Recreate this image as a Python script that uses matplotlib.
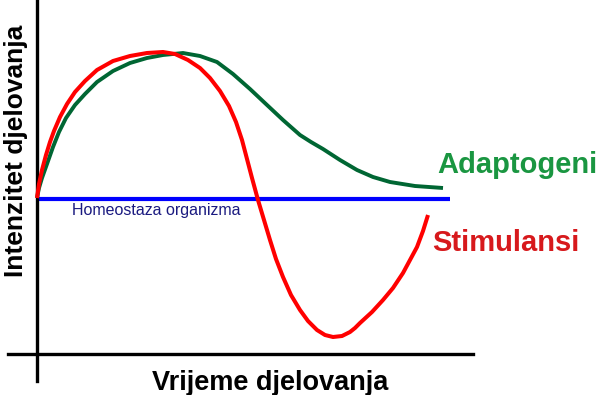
import matplotlib
matplotlib.use("Agg")
import matplotlib.pyplot as plt

plt.rcParams['font.family'] = ['Liberation Sans', 'DejaVu Sans']

# Time axis and intensity values
green_x = [0, 2, 5, 10, 16, 22, 29, 38, 48, 60, 76, 93, 110, 126, 146, 163, 180, 196,
           213, 230, 246, 263, 274, 286, 303, 320, 336, 353, 378, 406]
green_y = [156, 166, 176, 190, 207, 222, 236, 249, 260, 272, 283, 291, 296, 299, 301, 298,
           292, 280, 265, 249, 234, 219, 212, 205, 194, 184, 177, 172, 168, 166]

red_x = [0, 2, 5, 9, 13, 17, 23, 30, 38, 48, 60, 76, 93, 110, 126, 138, 151, 163, 173,
         183, 192, 199, 205, 210, 215, 221, 227, 233, 239, 246, 254, 263, 271, 280, 288,
         296, 305, 313, 318, 323, 335, 346, 356, 366, 373, 380, 386, 391]
red_y = [156, 170, 184, 199, 212, 223, 237, 250, 262, 273, 284, 293, 298, 301, 302, 300,
         294, 286, 276, 263, 248, 232, 214, 195, 176, 154, 134, 114, 95, 77, 59, 44, 33,
         24, 19, 17, 18, 22, 26, 31, 42, 54, 66, 81, 94, 107, 123, 139]

homeostasis_level = 155
homeostasis_end = 413

x_label = "Vrijeme djelovanja"
y_label = "Intenzitet djelovanja"
homeostasis_label = "Homeostaza organizma"
green_label = "Adaptogeni"
red_label = "Stimulansi"

fig = plt.figure(figsize=(6.0, 3.95), dpi=100)
ax = fig.add_axes([0, 0, 1, 1])
ax.set_xlim(-37, 563)
ax.set_ylim(-41, 354)

for s in ['top', 'right']:
    ax.spines[s].set_visible(False)
ax.spines['left'].set_position(('data', 0))
ax.spines['bottom'].set_position(('data', 0))
ax.spines['left'].set_bounds(-27, 354)
ax.spines['bottom'].set_bounds(-29, 436)
ax.spines['left'].set_linewidth(2.4)
ax.spines['bottom'].set_linewidth(2.4)
ax.set_xticks([])
ax.set_yticks([])
ax.patch.set_alpha(0)

ax.plot([0, homeostasis_end], [homeostasis_level, homeostasis_level],
        color='#0000ff', lw=3.0, solid_capstyle='butt', zorder=2)
ax.plot(green_x, green_y, color='#006633', lw=2.8, solid_joinstyle='round',
        solid_capstyle='butt', zorder=3)
ax.plot(red_x, red_y, color='#ff0000', lw=2.9, solid_joinstyle='round',
        solid_capstyle='butt', zorder=4)

ax.text(35, 144, homeostasis_label, color='#1a1a80', fontsize=11.5,
        ha='left', va='center')
ax.text(400, 189, green_label, color='#1a9641', fontsize=21, fontweight='bold',
        ha='left', va='center')
ax.text(395, 111, red_label, color='#d7191c', fontsize=21, fontweight='bold',
        ha='left', va='center')

ax.text(233, -29, x_label, color='black', fontsize=19.5, fontweight='bold',
        ha='center', va='center')
ax.text(-21, 203, y_label, color='black', fontsize=19, fontweight='bold',
        ha='center', va='center', rotation=90)

fig.savefig("out.png", dpi=100)
